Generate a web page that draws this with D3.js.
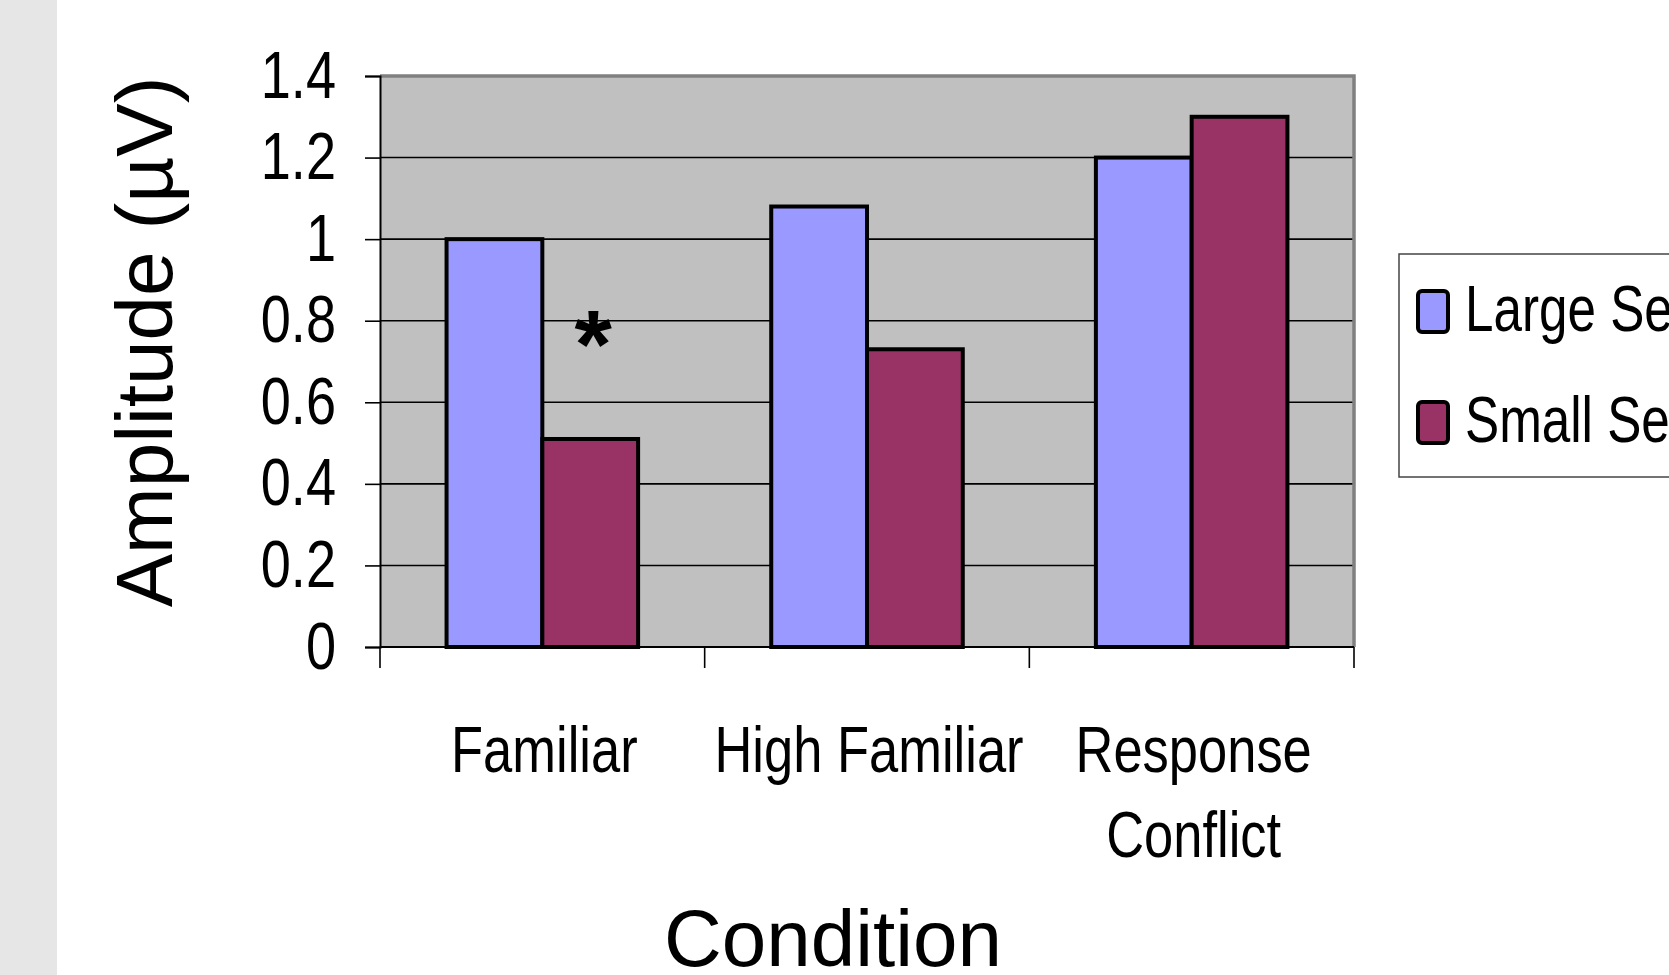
<!DOCTYPE html>
<html>
<head>
<meta charset="utf-8">
<script src="https://cdn.jsdelivr.net/npm/d3@7"></script>
<style>
  html, body { margin: 0; padding: 0; background: #ffffff; overflow: hidden; }
  svg { display: block; }
  .narrow, .wide { font-family: "Liberation Sans", Arial, sans-serif; }
</style>
</head>
<body>
<svg id="chart" width="1669" height="975"></svg>
<script>
// ERP amplitude by condition and set size
const categories = ["Familiar", "High Familiar", "Response Conflict"];
const categoryLines = [["Familiar"], ["High Familiar"], ["Response", "Conflict"]];
const seriesNames = ["Large Set", "Small Set"];
const largeSet = [1.00, 1.08, 1.20];
const smallSet = [0.51, 0.73, 1.30];
const yTicks = [0, 0.2, 0.4, 0.6, 0.8, 1, 1.2, 1.4];
const seriesColors = ["#9999ff", "#993366"];
const annotations = [{ category: "Familiar", series: "Small Set", label: "*", above: 0.28 }];

// horizontal squeeze that gives the regular sans a narrow (condensed) look
const NARROW = 0.82;

const seriesValues = [largeSet, smallSet];
const rows = categories.map((c, i) => ({
  category: c,
  values: seriesNames.map((s, j) => ({ series: s, value: seriesValues[j][i], color: seriesColors[j] }))
}));

const svg = d3.select("#chart");

// left margin band
svg.append("rect").attr("x", 0).attr("y", 0).attr("width", 57).attr("height", 975).attr("fill", "#e6e6e6");

const plot = { left: 380, right: 1354, top: 76, bottom: 647 };

const x = d3.scaleBand().domain(categories).range([plot.left, plot.right]).padding(0);
const groupWidth = x.bandwidth() * 0.59;
const xInner = d3.scaleBand().domain(seriesNames).range([0, groupWidth]).padding(0);
const y = d3.scaleLinear().domain([0, 1.4]).range([plot.bottom, plot.top]);

// plot area
svg.append("rect")
  .attr("x", plot.left).attr("y", plot.top)
  .attr("width", plot.right - plot.left).attr("height", plot.bottom - plot.top)
  .attr("fill", "#c0c0c0");

// horizontal gridlines
svg.append("g").selectAll("line")
  .data(yTicks.filter(t => t > 0 && t < 1.4))
  .join("line")
  .attr("x1", plot.left).attr("x2", plot.right)
  .attr("y1", d => y(d)).attr("y2", d => y(d))
  .attr("stroke", "#000").attr("stroke-width", 1.6);

// plot border (top and right)
svg.append("path")
  .attr("d", `M${plot.left},${plot.top}H${plot.right}V${plot.bottom}`)
  .attr("fill", "none").attr("stroke", "#808080").attr("stroke-width", 3.5);

// bars
const groups = svg.append("g").selectAll("g")
  .data(rows)
  .join("g")
  .attr("transform", d => `translate(${x(d.category) + (x.bandwidth() - groupWidth) / 2},0)`);

groups.selectAll("rect")
  .data(d => d.values)
  .join("rect")
  .attr("x", d => xInner(d.series))
  .attr("y", d => y(d.value))
  .attr("width", xInner.bandwidth())
  .attr("height", d => y(0) - y(d.value))
  .attr("fill", d => d.color)
  .attr("stroke", "#000")
  .attr("stroke-width", 4);

// significance marker
annotations.forEach(a => {
  const i = categories.indexOf(a.category);
  const j = seriesNames.indexOf(a.series);
  const cx = x(a.category) + (x.bandwidth() - groupWidth) / 2 + xInner(a.series) + xInner.bandwidth() / 2;
  svg.append("text")
    .attr("class", "wide")
    .attr("x", cx + 3)
    .attr("y", y(seriesValues[j][i] + a.above) + 52)
    .attr("text-anchor", "middle")
    .attr("font-size", 96)
    .attr("font-weight", "bold")
    .text(a.label);
});

// y axis
const yAxis = d3.axisLeft(y).tickValues(yTicks).tickSize(15).tickPadding(29)
  .tickFormat(d => d3.format("")(d));
const gy = svg.append("g").attr("transform", `translate(${plot.left},0)`).call(yAxis);
gy.attr("font-family", null).attr("font-size", null);
gy.select(".domain").attr("stroke", "#000").attr("stroke-width", 2);
gy.selectAll(".tick line").attr("stroke", "#000").attr("stroke-width", 1.6);
gy.selectAll(".tick text")
  .attr("class", "narrow")
  .attr("font-size", 66)
  .attr("fill", "#000")
  .attr("x", -(15 + 29) / NARROW)
  .attr("transform", `scale(${NARROW},1)`);

// x axis: boundary ticks between categories
const bounds = categories.map(c => x(c)).concat([x(categories[categories.length - 1]) + x.bandwidth()]);
svg.append("line")
  .attr("x1", plot.left).attr("x2", plot.right)
  .attr("y1", plot.bottom).attr("y2", plot.bottom)
  .attr("stroke", "#000").attr("stroke-width", 2);
svg.append("g").selectAll("line")
  .data(bounds)
  .join("line")
  .attr("x1", d => d).attr("x2", d => d)
  .attr("y1", plot.bottom).attr("y2", plot.bottom + 21)
  .attr("stroke", "#000").attr("stroke-width", 1.6);

// category labels
const catLabels = svg.append("g").selectAll("text")
  .data(categories)
  .join("text")
  .attr("class", "narrow")
  .attr("text-anchor", "middle")
  .attr("font-size", 64)
  .attr("fill", "#000")
  .attr("transform", d => `translate(${x(d) + x.bandwidth() / 2 + 2},772) scale(${NARROW},1)`);
catLabels.selectAll("tspan")
  .data((d, i) => categoryLines[i])
  .join("tspan")
  .attr("x", 0)
  .attr("dy", (d, k) => k === 0 ? 0 : 85)
  .text(d => d);

// axis titles
svg.append("text")
  .attr("class", "wide")
  .attr("text-anchor", "middle")
  .attr("font-size", 80)
  .attr("transform", "translate(172,342) rotate(-90)")
  .text("Amplitude (µV)");

svg.append("text")
  .attr("class", "wide")
  .attr("text-anchor", "middle")
  .attr("font-size", 80)
  .attr("x", 833).attr("y", 966)
  .text("Condition");

// legend
const legend = svg.append("g");
legend.append("rect")
  .attr("x", 1399).attr("y", 254).attr("width", 340).attr("height", 223)
  .attr("fill", "#fff").attr("stroke", "#444").attr("stroke-width", 1.5);
const items = legend.selectAll("g.item")
  .data(seriesNames)
  .join("g")
  .attr("class", "item")
  .attr("transform", (d, i) => `translate(0,${i * 111})`);
items.append("rect")
  .attr("x", 1418).attr("y", 291).attr("width", 30).attr("height", 41)
  .attr("rx", 4)
  .attr("fill", (d, i) => seriesColors[i])
  .attr("stroke", "#000").attr("stroke-width", 4);
items.append("text")
  .attr("class", "narrow")
  .attr("font-size", 64)
  .attr("fill", "#000")
  .attr("transform", `translate(1465,331) scale(0.8,1)`)
  .text(d => d);
</script>
</body>
</html>
